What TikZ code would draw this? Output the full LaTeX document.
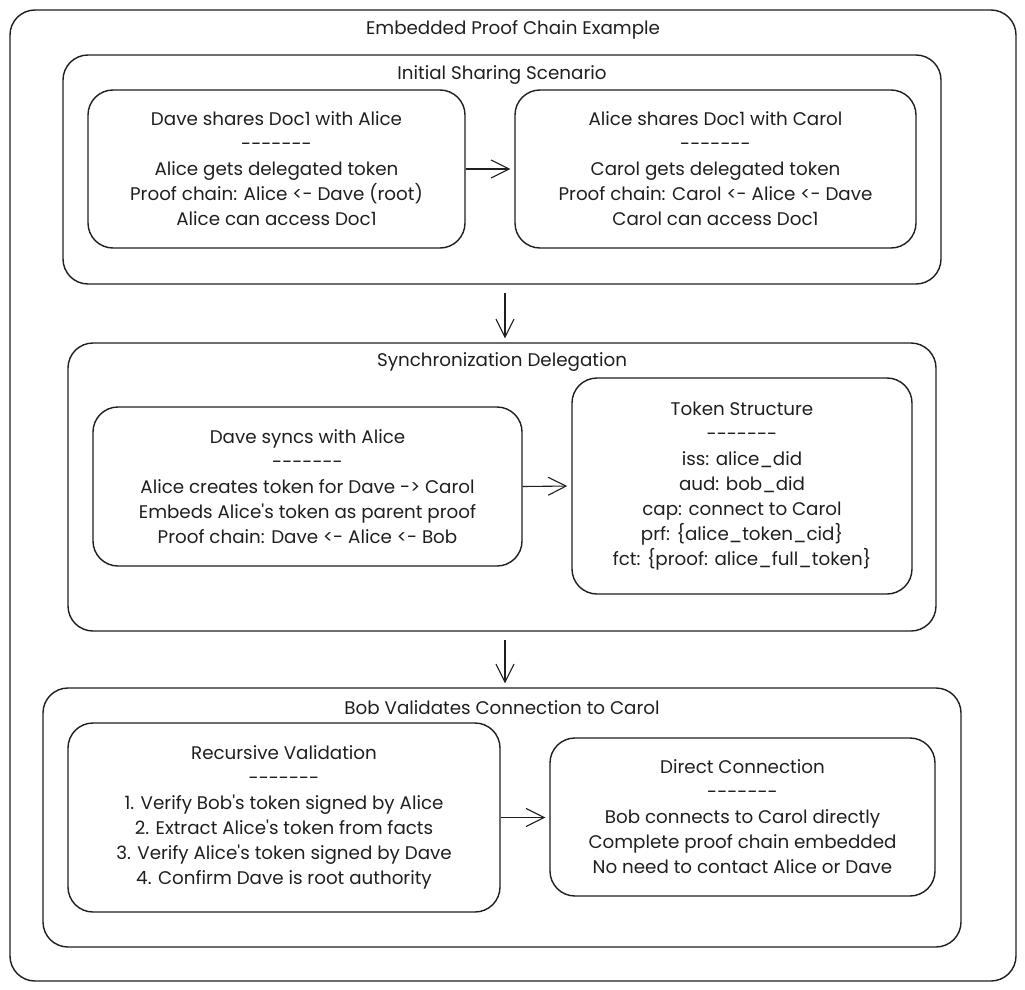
\documentclass[tikz,border=0pt]{standalone}
\usepackage{fontspec}
\setmainfont{Poppins}[Ligatures=TeXOff]
\usetikzlibrary{arrows.meta}

\begin{document}
\begin{tikzpicture}[x=1pt,y=-1pt,
    frame/.style={draw=black!88,line width=1.4pt,rounded corners=25pt,inner sep=0pt},
    card/.style={frame,align=center,text=black!88,font=\fontsize{18.3}{25}\selectfont},
    heading/.style={inner sep=0pt,text=black!88,font=\fontsize{18.3}{25}\selectfont},
    flow/.style={draw=black!88,line width=1.1pt,-{Straight Barb[length=18pt,width=18pt,line width=1.1pt]},shorten >=4pt}]

      \useasboundingbox (0,0) rectangle (1025,990);

      % frames
      \node[frame,minimum width=1006pt,minimum height=971pt] (outer) at (513,495.5) {};
      \node[heading] (outertitle) at (513,30) {Embedded Proof Chain Example};

      \node[frame,minimum width=878pt,minimum height=229pt] (share) at (502,169.5) {};
      \node[heading] (sharetitle) at (502,75) {Initial Sharing Scenario};

      \node[frame,minimum width=868pt,minimum height=288pt] (sync) at (502,487) {};
      \node[heading] (synctitle) at (502,362) {Synchronization Delegation};

      \node[frame,minimum width=918pt,minimum height=259pt] (valid) at (502,817.5) {};
      \node[heading] (validtitle) at (502,708) {Bob Validates Connection to Carol};

      % cards
      \node[card,minimum width=377pt,minimum height=158pt] (daveshare) at (276.5,169)
        {Dave shares Doc1 with Alice\\-------\\Alice gets delegated token\\Proof chain: Alice <- Dave (root)\\Alice can access Doc1};
      \node[card,minimum width=401pt,minimum height=158pt] (aliceshare) at (715.5,169)
        {Alice shares Doc1 with Carol\\-------\\Carol gets delegated token\\Proof chain: Carol <- Alice <- Dave\\Carol can access Doc1};

      \node[card,minimum width=429pt,minimum height=159pt] (davesync) at (307.5,486.5)
        {Dave syncs with Alice\\-------\\Alice creates token for Dave -> Carol\\Embeds Alice's token as parent proof\\Proof chain: Dave <- Alice <- Bob};
      \node[card,minimum width=340pt,minimum height=216pt] (token) at (742,486)
        {Token Structure\\-------\\iss: alice\_did\\aud: bob\_did\\cap: connect to Carol\\prf: \{alice\_token\_cid\}\\fct: \{proof: alice\_full\_token\}};

      \node[card,minimum width=432pt,minimum height=189pt] (recursive) at (284,817.5)
        {Recursive Validation\\-------\\1. Verify Bob's token signed by Alice\\2. Extract Alice's token from facts\\3. Verify Alice's token signed by Dave\\4. Confirm Dave is root authority};
      \node[card,minimum width=385pt,minimum height=158pt] (direct) at (742.5,817)
        {Direct Connection\\-------\\Bob connects to Carol directly\\Complete proof chain embedded\\No need to contact Alice or Dave};

      % arrows
      \draw[flow] (daveshare.east) -- (aliceshare.west);
      \draw[flow] (davesync.east) -- (token.west);
      \draw[flow] (recursive.east) -- (direct.west |- recursive.east);
      \draw[flow,shorten <=8pt] ([xshift=3pt]share.south) -- ([xshift=3pt]sync.north);
      \draw[flow,shorten <=8pt] ([xshift=3pt]sync.south) -- ([xshift=3pt]valid.north);

\end{tikzpicture}
\end{document}
